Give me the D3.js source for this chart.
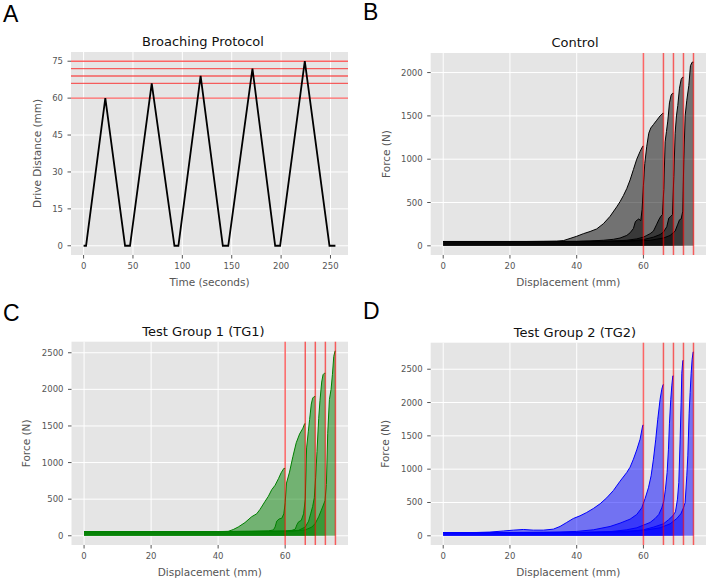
<!DOCTYPE html>
<html>
<head>
<meta charset="utf-8">
<script src="https://cdn.jsdelivr.net/npm/d3@7"></script>
<style>
  body { margin: 0; background: #fff; }
  text { font-family: "DejaVu Sans", sans-serif; }
</style>
</head>
<body>
<div id="chart"></div>
<script>
// ---- data ----
const limits = [60, 66, 69, 72, 75];

const protocolTime = [0, 2.5, 22, 42, 47, 69, 92, 96, 118.5, 141, 146.5, 171, 194, 199, 224, 249, 255];
const protocolDist = [0, 0, 60, 0, 0, 66, 0, 0, 69, 0, 0, 72, 0, 0, 75, 0, 0];

const timeTicks = [0, 50, 100, 150, 200, 250];
const distTicks = [0, 15, 30, 45, 60, 75];
const dispTicks = [0, 20, 40, 60];
const controlForceTicks = [0, 500, 1000, 1500, 2000];
const tgForceTicks = [0, 500, 1000, 1500, 2000, 2500];

// each run: [displacement (mm), force (N)]
const controlRuns = [
  [[0,50],[5,48],[10,50],[15,49],[20,50],[25,50],[30,52],[34,54],[36,60],[38,85],[40,110],[42,140],[44,165],[46,195],[48,255],[50,340],[52,450],[53,510],[54,580],[55,660],[56,760],[57,880],[58,1000],[59,1090],[59.8,1150],[60,1150]],
  [[0,50],[10,50],[20,50],[30,50],[40,52],[44,56],[48,64],[51,75],[53,90],[55,120],[56,150],[57,200],[57.6,280],[58.2,300],[58.6,310],[59.2,290],[59.6,420],[60,700],[60.4,950],[61,1150],[61.6,1300],[62.2,1360],[63,1400],[64,1450],[65,1500],[65.8,1530],[66,1530]],
  [[0,50],[20,50],[40,50],[50,54],[55,64],[58,80],[60,100],[61,120],[62,140],[63,170],[64,250],[64.6,300],[65.2,340],[65.7,360],[66.1,650],[66.5,1200],[66.9,1320],[67.3,1440],[67.8,1650],[68.3,1740],[68.7,1760],[69,1760]],
  [[0,50],[20,50],[40,50],[55,56],[60,72],[63,100],[65,130],[66,160],[67,220],[67.6,320],[68.2,340],[68.7,360],[69.1,800],[69.5,1300],[69.9,1500],[70.3,1620],[70.8,1820],[71.3,1920],[71.7,1945],[72,1945]],
  [[0,50],[20,50],[40,50],[55,52],[62,64],[66,90],[68,120],[69.5,170],[70.3,250],[70.8,300],[71.3,310],[71.8,400],[72.1,1000],[72.5,1500],[73,1680],[73.6,1850],[74.1,2080],[74.6,2120],[75,2120]]
];

const tg1Runs = [
  [[0,58],[10,58],[20,58],[30,58],[40,58],[43,60],[44.5,85],[46,120],[48,180],[50,260],[51.5,300],[52.5,360],[54,470],[55,540],[56,630],[57,690],[58,780],[58.8,860],[59.6,920],[60,920]],
  [[0,58],[20,58],[40,58],[50,60],[55,66],[56.5,80],[57,120],[57.5,200],[58.2,230],[59,240],[59.6,300],[60,450],[60.4,720],[61.3,870],[62.3,1080],[63.3,1270],[64.3,1390],[65.3,1470],[65.8,1530],[66,1530]],
  [[0,58],[40,58],[55,60],[60,66],[62,74],[63,90],[63.5,150],[64,190],[64.8,210],[65.5,300],[66,500],[66.4,1200],[66.9,1420],[67.3,1590],[67.8,1800],[68.2,1880],[68.6,1900],[69,1900]],
  [[0,58],[40,58],[60,62],[64,74],[66,120],[67,200],[67.6,300],[68.2,400],[68.7,520],[69.1,800],[69.5,1150],[70,1600],[70.4,1850],[70.9,2100],[71.3,2200],[71.7,2220],[72,2220]],
  [[0,58],[40,58],[62,62],[66,80],[68,120],[69,170],[70,260],[70.8,350],[71.4,420],[71.9,480],[72.3,700],[72.7,1400],[73.2,1860],[73.7,2000],[74.1,2200],[74.5,2450],[74.9,2525],[75,2525]]
];

const tg2Runs = [
  [[0,48],[5,48],[10,50],[14,56],[18,72],[21,85],[24,95],[27,85],[30,85],[33,100],[35,140],[37,200],[39,260],[41,300],[43,350],[45,410],[47,480],[49,570],[51,680],[53,820],[55,950],[56,1030],[57,1150],[58,1290],[59,1450],[59.8,1660],[60,1660]],
  [[0,48],[10,48],[20,50],[30,54],[35,58],[40,66],[45,90],[50,140],[53,190],[56,250],[58,320],[59.5,420],[60.5,560],[61.5,720],[62.3,900],[63,1150],[63.7,1450],[64.3,1750],[65,2050],[65.5,2200],[65.9,2270],[66,2270]],
  [[0,48],[20,48],[40,50],[50,62],[55,90],[58,120],[60,160],[62,200],[63.5,260],[64.6,320],[65.5,420],[66.1,520],[66.6,700],[67.1,950],[67.5,1300],[67.8,1690],[68.2,2050],[68.5,2250],[68.8,2400],[69,2400]],
  [[0,48],[20,48],[40,50],[55,58],[60,90],[63,130],[66,180],[67.5,240],[68.8,300],[69.6,360],[70.2,550],[70.6,800],[71,1440],[71.3,2000],[71.5,2440],[71.8,2630],[72,2630]],
  [[0,48],[20,48],[45,50],[60,80],[65,120],[68,180],[70,260],[71.2,330],[72,420],[72.5,500],[73,900],[73.3,1200],[73.7,1840],[74,2150],[74.3,2440],[74.6,2650],[74.9,2760],[75,2760]]
];

// ---- drawing ----
const svg = d3.select("#chart").append("svg")
    .attr("width", 708)
    .attr("height", 580);

function drawPanel(p) {
    const x = d3.scaleLinear().domain(p.xDomain).range([p.left, p.right]);
    const y = d3.scaleLinear().domain(p.yDomain).range([p.bottom, p.top]);
    const g = svg.append("g");

    // panel letter
    svg.append("text")
        .attr("x", p.letterX).attr("y", p.letterY)
        .style("font-family", "'Liberation Sans', Arial, sans-serif")
        .style("font-size", "23px")
        .text(p.letter);

    // background + grid
    g.append("rect")
        .attr("x", p.left).attr("y", p.top)
        .attr("width", p.right - p.left).attr("height", p.bottom - p.top)
        .attr("fill", "#e5e5e5");
    g.selectAll(".gx").data(p.xTicks).enter().append("line")
        .attr("x1", d => x(d)).attr("x2", d => x(d))
        .attr("y1", p.top).attr("y2", p.bottom)
        .attr("stroke", "#fff").attr("stroke-width", 1);
    g.selectAll(".gy").data(p.yTicks).enter().append("line")
        .attr("y1", d => y(d)).attr("y2", d => y(d))
        .attr("x1", p.left).attr("x2", p.right)
        .attr("stroke", "#fff").attr("stroke-width", 1);

    p.content(g, x, y);

    // tick marks + labels
    g.selectAll(".tx").data(p.xTicks).enter().append("line")
        .attr("x1", d => x(d)).attr("x2", d => x(d))
        .attr("y1", p.bottom).attr("y2", p.bottom + 3.5)
        .attr("stroke", "#555");
    g.selectAll(".lx").data(p.xTicks).enter().append("text")
        .attr("x", d => x(d)).attr("y", p.bottom + 13.5)
        .attr("text-anchor", "middle")
        .style("font-size", "8.5px").attr("fill", "#555")
        .text(d => d);
    g.selectAll(".ty").data(p.yTicks).enter().append("line")
        .attr("y1", d => y(d)).attr("y2", d => y(d))
        .attr("x1", p.left - 3.5).attr("x2", p.left)
        .attr("stroke", "#555");
    g.selectAll(".ly").data(p.yTicks).enter().append("text")
        .attr("x", p.left - 8).attr("y", d => y(d) + 3)
        .attr("text-anchor", "end")
        .style("font-size", "8.5px").attr("fill", "#555")
        .text(d => d);

    // axis labels and title
    g.append("text")
        .attr("x", (p.left + p.right) / 2).attr("y", p.bottom + 30.5)
        .attr("text-anchor", "middle")
        .style("font-size", "10.5px").attr("fill", "#555")
        .text(p.xLabel);
    g.append("text")
        .attr("transform", `translate(${p.yLabelX},${(p.top + p.bottom) / 2}) rotate(-90)`)
        .attr("text-anchor", "middle")
        .style("font-size", "10.5px").attr("fill", "#555")
        .text(p.yLabel);
    g.append("text")
        .attr("x", p.titleX).attr("y", p.top - 6)
        .attr("text-anchor", "middle")
        .style("font-size", "13px").attr("fill", "#111")
        .text(p.title);
}

// force-displacement panels share this drawing
function forceContent(runs, color) {
    return function(g, x, y) {
        const area = d3.area().x(d => x(d[0])).y0(y(0)).y1(d => y(d[1]));
        const line = d3.line().x(d => x(d[0])).y(d => y(d[1]));
        runs.forEach(run => {
            g.append("path").attr("d", area(run))
                .attr("fill", color).attr("fill-opacity", 0.5);
            g.append("path").attr("d", line(run))
                .attr("fill", "none").attr("stroke", color).attr("stroke-width", 1);
        });
        g.selectAll(".lim").data(limits).enter().append("line")
            .attr("x1", d => x(d)).attr("x2", d => x(d))
            .attr("y1", y.range()[1]).attr("y2", y.range()[0])
            .attr("stroke", "red").attr("stroke-opacity", 0.6).attr("stroke-width", 1.5);
    };
}

const dispDomain = [-3.75, 78.75];

drawPanel({
    letter: "A", letterX: 3, letterY: 22,
    title: "Broaching Protocol", titleX: 203,
    left: 71, right: 348, top: 52, bottom: 255,
    xDomain: [-12.75, 267.75], yDomain: [-3.75, 78.75],
    xTicks: timeTicks, yTicks: distTicks,
    xLabel: "Time (seconds)", yLabel: "Drive Distance (mm)", yLabelX: 41,
    content: function(g, x, y) {
        g.selectAll(".lim").data(limits).enter().append("line")
            .attr("y1", d => y(d)).attr("y2", d => y(d))
            .attr("x1", x.range()[0]).attr("x2", x.range()[1])
            .attr("stroke", "red").attr("stroke-opacity", 0.6).attr("stroke-width", 1.3);
        const pts = protocolTime.map((t, i) => [t, protocolDist[i]]);
        g.append("path")
            .attr("d", d3.line().x(d => x(d[0])).y(d => y(d[1]))(pts))
            .attr("fill", "none").attr("stroke", "#000").attr("stroke-width", 1.8);
    }
});

drawPanel({
    letter: "B", letterX: 363, letterY: 20,
    title: "Control", titleX: 575,
    left: 430.7, right: 706, top: 53, bottom: 255,
    xDomain: dispDomain, yDomain: [-106, 2226],
    xTicks: dispTicks, yTicks: controlForceTicks,
    xLabel: "Displacement (mm)", yLabel: "Force (N)", yLabelX: 390,
    content: forceContent(controlRuns, "black")
});

drawPanel({
    letter: "C", letterX: 3, letterY: 321,
    title: "Test Group 1 (TG1)", titleX: 203.5,
    left: 71.5, right: 348, top: 341.7, bottom: 545,
    xDomain: dispDomain, yDomain: [-126, 2651],
    xTicks: dispTicks, yTicks: tgForceTicks,
    xLabel: "Displacement (mm)", yLabel: "Force (N)", yLabelX: 30,
    content: forceContent(tg1Runs, "green")
});

drawPanel({
    letter: "D", letterX: 363, letterY: 319,
    title: "Test Group 2 (TG2)", titleX: 575,
    left: 430.7, right: 706, top: 342.7, bottom: 545,
    xDomain: dispDomain, yDomain: [-138, 2898],
    xTicks: dispTicks, yTicks: tgForceTicks,
    xLabel: "Displacement (mm)", yLabel: "Force (N)", yLabelX: 389,
    content: forceContent(tg2Runs, "blue")
});
</script>
</body>
</html>
